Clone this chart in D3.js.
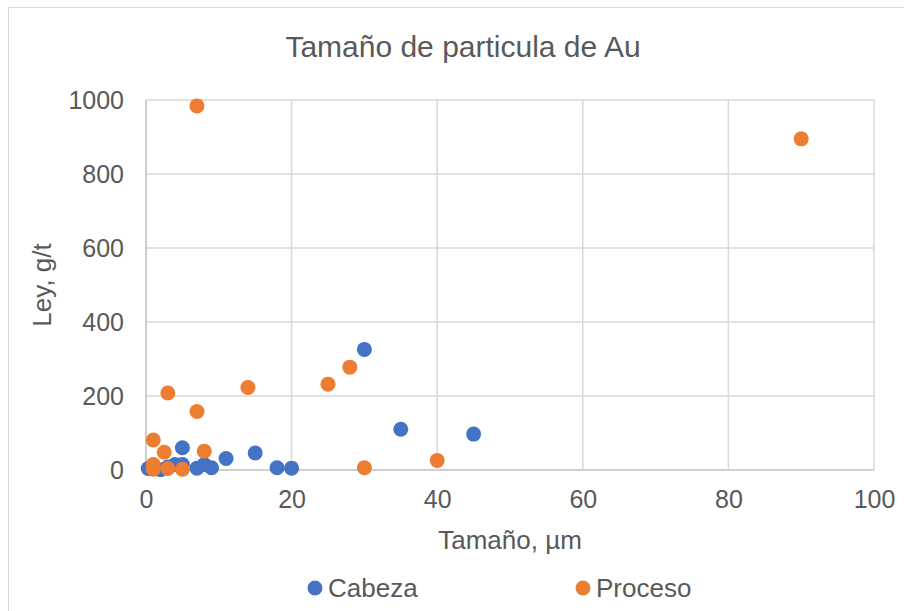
<!DOCTYPE html>
<html>
<head>
<meta charset="utf-8">
<script src="https://cdn.jsdelivr.net/npm/d3@7"></script>
<style>
  body { margin: 0; background: #fff; }
  text { font-family: "Liberation Sans", Arial, sans-serif; fill: #595959; }
</style>
</head>
<body>
<div id="vis"></div>
<script>
const FRAME_WIDTH = 904;
const FRAME_HEIGHT = 611;

// data: [tamaño µm, ley g/t]
const CABEZA = [[0.3, 4], [2, 1], [3, 8], [4, 15], [5, 15], [5, 60], [7, 5], [8, 15],
                [9, 6], [11, 31], [15, 46], [18, 6], [20, 5], [30, 326], [35, 110], [45, 97]];
const PROCESO = [[1, 81], [1, 15], [1, 2], [2.5, 48], [3, 208], [3, 4], [5, 2], [7, 984],
                 [7, 158], [8, 51], [14, 223], [25, 232], [28, 278], [30, 6], [40, 26], [90, 895]];
const X_TICKS = [0, 20, 40, 60, 80, 100];
const Y_TICKS = [0, 200, 400, 600, 800, 1000];
const SERIES = [
  {name: "Cabeza", color: "#4472C4", data: CABEZA},
  {name: "Proceso", color: "#ED7D31", data: PROCESO}
];

const X_SCALE = d3.scaleLinear().domain([0, 100]).range([146, 874]);
const Y_SCALE = d3.scaleLinear().domain([0, 1000]).range([470, 100]);

const FRAME = d3.select("#vis")
  .append("svg")
    .attr("width", FRAME_WIDTH)
    .attr("height", FRAME_HEIGHT);

// outer chart border
FRAME.append("rect")
  .attr("x", 8.5).attr("y", 7.5)
  .attr("width", 1000).attr("height", 1000)
  .attr("fill", "none").attr("stroke", "#d9d9d9");

// gridlines
FRAME.selectAll(".hgrid").data(Y_TICKS).enter()
  .append("line")
    .attr("x1", X_SCALE(0)).attr("x2", X_SCALE(100))
    .attr("y1", d => Y_SCALE(d)).attr("y2", d => Y_SCALE(d))
    .attr("stroke", d => d === 0 ? "#bfbfbf" : "#d9d9d9")
    .attr("stroke-width", 1.5);
FRAME.selectAll(".vgrid").data(X_TICKS).enter()
  .append("line")
    .attr("y1", Y_SCALE(0)).attr("y2", Y_SCALE(1000))
    .attr("x1", d => X_SCALE(d)).attr("x2", d => X_SCALE(d))
    .attr("stroke", d => d === 0 ? "#bfbfbf" : "#d9d9d9")
    .attr("stroke-width", 1.5);

// axes (labels only)
const yAxis = FRAME.append("g")
  .attr("transform", "translate(" + (X_SCALE(0) - 22) + ",0)")
  .call(d3.axisLeft(Y_SCALE).tickValues(Y_TICKS).tickFormat(d3.format("d"))
        .tickSize(0).tickPadding(0));
const xAxis = FRAME.append("g")
  .attr("transform", "translate(0," + (Y_SCALE(0) + 20) + ")")
  .call(d3.axisBottom(X_SCALE).tickValues(X_TICKS).tickFormat(d3.format("d"))
        .tickSize(0).tickPadding(0));
[yAxis, xAxis].forEach(g => {
  g.select(".domain").remove();
  g.selectAll("text").attr("font-size", "25px").attr("fill", "#595959")
    .style("font-family", "'Liberation Sans', Arial, sans-serif");
});

// points
SERIES.forEach(s => {
  FRAME.append("g").selectAll("circle")
    .data(s.data).enter()
    .append("circle")
      .attr("cx", d => X_SCALE(d[0]))
      .attr("cy", d => Y_SCALE(d[1]))
      .attr("r", 7.5)
      .attr("fill", s.color);
});

// title and axis titles
FRAME.append("text")
  .attr("x", 463).attr("y", 57)
  .attr("text-anchor", "middle")
  .attr("font-size", "30px")
  .text("Tamaño de particula de Au");
FRAME.append("text")
  .attr("x", 510).attr("y", 549)
  .attr("text-anchor", "middle")
  .attr("font-size", "26px")
  .text("Tamaño, µm");
FRAME.append("text")
  .attr("transform", "translate(51,285) rotate(-90)")
  .attr("text-anchor", "middle")
  .attr("font-size", "26px")
  .text("Ley, g/t");

// legend
const LEGEND_X = [315, 583];
SERIES.forEach((s, i) => {
  FRAME.append("circle")
    .attr("cx", LEGEND_X[i]).attr("cy", 588).attr("r", 7.5)
    .attr("fill", s.color);
  FRAME.append("text")
    .attr("x", LEGEND_X[i] + 13).attr("y", 597)
    .attr("font-size", "26px")
    .text(s.name);
});
</script>
</body>
</html>
